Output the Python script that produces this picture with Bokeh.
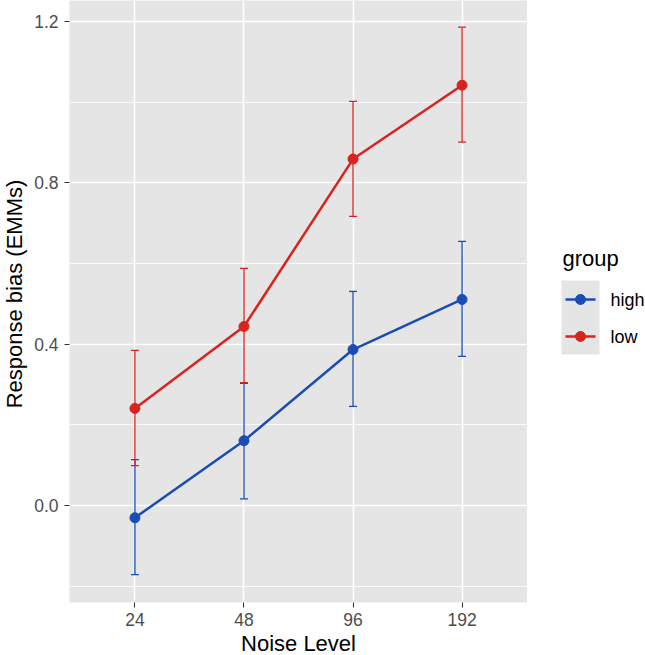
import math
from bokeh.plotting import figure
from bokeh.models import FactorRange, Range1d, FixedTicker, NumeralTickFormatter, ColumnDataSource
from bokeh.layouts import row, column
from bokeh.embed import file_html
from bokeh.resources import INLINE
from bokeh.core.properties import value

# Estimated marginal means of response bias by noise level and group
noise_levels = ["24", "48", "96", "192"]
groups = ["high", "low"]
high_emm = [-0.030, 0.161, 0.387, 0.511]
high_lower = [-0.171, 0.017, 0.246, 0.370]
high_upper = [0.114, 0.303, 0.531, 0.655]
low_emm = [0.241, 0.444, 0.859, 1.042]
low_lower = [0.099, 0.305, 0.717, 0.901]
low_upper = [0.385, 0.588, 1.002, 1.186]
y_major = [0.0, 0.4, 0.8, 1.2]
y_minor = [-0.2, 0.2, 0.6, 1.0]
x_title = "Noise Level"
y_title = "Response bias (EMMs)"
legend_title = "group"

colors = {"high": "#1a4db4", "low": "#d8231f"}
series = {
    "high": (high_emm, high_lower, high_upper),
    "low": (low_emm, low_lower, low_upper),
}

FONT_NAME = "Liberation Sans"
FONT = value(FONT_NAME)
PANEL_BG = "#e5e5e5"
TOTAL_H = 655
YT_W = 28          # strip holding the y-axis title
MAIN_W, MAIN_H = 499, 632
XT_H = TOTAL_H - MAIN_H
LEG_W = 118


def blank(width, height):
    """A plain drawing strip whose ranges are its own pixel coordinates."""
    f = figure(width=width, height=height,
               x_range=Range1d(0, width), y_range=Range1d(height, 0),
               x_axis_location=None, y_axis_location=None,
               output_backend="svg", toolbar_location=None, min_border=0,
               frame_align=False)
    f.grid.visible = False
    f.outline_line_color = None
    f.background_fill_color = "white"
    f.border_fill_color = "white"
    return f


p = figure(
    width=MAIN_W, height=MAIN_H,
    x_range=FactorRange(factors=noise_levels, range_padding=0.1, range_padding_units="absolute"),
    y_range=Range1d(-0.24, 1.252),
    output_backend="svg", toolbar_location=None,
    min_border_left=41, min_border_right=0, min_border_top=0, min_border_bottom=30,
    frame_align=False,
)
p.background_fill_color = PANEL_BG
p.border_fill_color = "white"
p.outline_line_color = None

# grid
p.xgrid.grid_line_color = "white"
p.xgrid.grid_line_width = 1.6
p.ygrid.grid_line_color = "white"
p.ygrid.grid_line_width = 1.6
p.ygrid.minor_grid_line_color = "white"
p.ygrid.minor_grid_line_width = 0.8

# axes
p.yaxis.ticker = FixedTicker(ticks=y_major, minor_ticks=y_minor)
p.yaxis.formatter = NumeralTickFormatter(format="0.0")
for ax in (p.xaxis[0], p.yaxis[0]):
    ax.axis_line_color = None
    ax.major_tick_line_color = "#333333"
    ax.major_tick_line_width = 1.1
    ax.major_tick_out = 5
    ax.major_tick_in = 0
    ax.minor_tick_out = 0
    ax.minor_tick_in = 0
    ax.major_label_text_font = FONT_NAME
    ax.major_label_text_font_size = "17.5px"
    ax.major_label_text_color = "#4d4d4d"
p.yaxis.major_label_standoff = 6
p.xaxis.major_label_standoff = 5

# error bars, lines and points for each group
for g in groups:
    emm, lo, hi = series[g]
    src = ColumnDataSource(dict(x=noise_levels, emm=emm, lo=lo, hi=hi))
    c = colors[g]
    p.segment(x0="x", x1="x", y0="lo", y1="hi", source=src, line_color=c, line_width=1.3)
    p.scatter(x="x", y="lo", source=src, marker="dash", size=8, line_color=c, line_width=1.3)
    p.scatter(x="x", y="hi", source=src, marker="dash", size=8, line_color=c, line_width=1.3)
for g in groups:
    emm, lo, hi = series[g]
    src = ColumnDataSource(dict(x=noise_levels, emm=emm))
    c = colors[g]
    p.line(x="x", y="emm", source=src, line_color=c, line_width=2.5)
    p.scatter(x="x", y="emm", source=src, size=10, fill_color=c, line_color=c)

# y-axis title strip
yt = blank(YT_W, TOTAL_H)
yt.text(x=[14], y=[293.5], text=[y_title], angle=math.pi / 2,
        text_align="center", text_baseline="middle",
        text_font=FONT, text_font_size="22px", text_color="black")

# x-axis title strip (centred under the panel)
xt = blank(MAIN_W, XT_H)
xt.text(x=[41 + 458 / 2], y=[642.5 - MAIN_H], text=[x_title],
        text_align="center", text_baseline="middle",
        text_font=FONT, text_font_size="22px", text_color="black")

# legend strip
leg = blank(LEG_W, TOTAL_H)
key_y = [299, 336]
leg.quad(left=[34], right=[72], top=[280], bottom=[354], fill_color=PANEL_BG, line_color=None)
leg.segment(x0=[38, 38], x1=[68, 68], y0=key_y, y1=key_y,
            line_color=[colors[g] for g in groups], line_width=2.5)
leg.scatter(x=[53, 53], y=key_y, size=10,
            fill_color=[colors[g] for g in groups], line_color=[colors[g] for g in groups])
leg.text(x=[83, 83], y=key_y, text=groups, text_baseline="middle",
         text_font=FONT, text_font_size="18px", text_color="black")
leg.text(x=[35], y=[257.5], text=[legend_title], text_baseline="middle",
         text_font=FONT, text_font_size="22px", text_color="black")

layout = row(yt, column(p, xt), leg)
open("out.html", "w").write(file_html(layout, INLINE))
